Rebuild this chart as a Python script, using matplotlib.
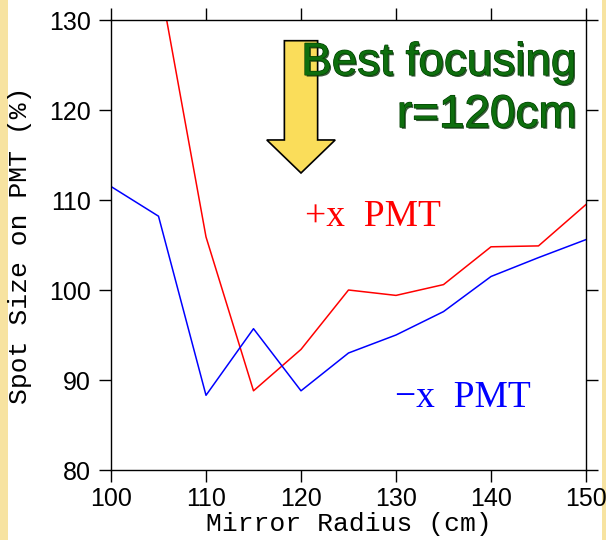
import matplotlib
matplotlib.use("Agg")
import matplotlib.pyplot as plt
import matplotlib.patheffects as pe
from matplotlib.patches import Rectangle

# mirror radius scan: spot size on each PMT, relative to nominal
radius_plus = [105, 110, 115, 120, 125, 130, 135, 140, 145, 150]
spot_plus = [135.0, 105.9, 88.8, 93.4, 100.0, 99.4, 100.6, 104.8, 104.9, 109.5]

radius_minus = [100, 105, 110, 115, 120, 125, 130, 135, 140, 145, 150]
spot_minus = [111.5, 108.2, 88.3, 95.7, 88.8, 93.0, 95.0, 97.6, 101.5, 103.6, 105.6]

x_ticks = [100, 110, 120, 130, 140, 150]
y_ticks = [80, 90, 100, 110, 120, 130]
best_radius = 120

BEIGE = "#f7e3a1"
GREEN = "#0e6e0e"

fig = plt.figure(figsize=(6.06, 5.40), dpi=100)
fig.patches.append(Rectangle((0, 0), 8 / 606, 1, transform=fig.transFigure,
                             facecolor=BEIGE, edgecolor="none", zorder=-1))
fig.patches.append(Rectangle((602 / 606, 0), 4 / 606, 1, transform=fig.transFigure,
                             facecolor=BEIGE, edgecolor="none", zorder=-1))

ax = fig.add_axes([111 / 606, 70 / 540, 475 / 606, 450 / 540])
ax.plot(radius_plus, spot_plus, color="red", lw=1.1)
ax.plot(radius_minus, spot_minus, color="blue", lw=1.1)

ax.set_xlim(100, 150)
ax.set_ylim(80, 130)
ax.set_xticks(x_ticks)
ax.set_yticks(y_ticks)
ax.tick_params(direction="out", length=8.6, width=1.0, top=True, right=True,
               labelsize=18, colors="black")
ax.tick_params(axis="y", pad=6)
ax.tick_params(axis="x", pad=4)
for lab in ax.get_xticklabels() + ax.get_yticklabels():
    lab.set_fontfamily("Liberation Sans")
for sp in ax.spines.values():
    sp.set_linewidth(1.0)

ax.set_xlabel("Mirror Radius (cm)", fontfamily="Liberation Mono", fontsize=19,
              labelpad=0)
ax.set_ylabel("Spot Size on PMT (%)", fontfamily="Liberation Mono", fontsize=19,
              labelpad=12)

# series labels
ax.text(120.4, 107.1, "+x  PMT", color="red", fontfamily="Liberation Serif",
        fontsize=27)
ax.text(129.9, 87.0, "\u2212x  PMT", color="blue", fontfamily="Liberation Serif",
        fontsize=27)

# yellow arrow pointing at the best radius
ax.arrow(best_radius, 127.7, 0, -14.7 + 3.67, width=3.5, head_width=7.2,
         head_length=3.67, length_includes_head=False, facecolor="#fadd5a",
         edgecolor="black", lw=1.2, zorder=3)

shadow = [pe.withSimplePatchShadow(offset=(1.2, -1.2), shadow_rgbFace="#0a300a",
                                   alpha=0.8),
          pe.Stroke(linewidth=0.9, foreground="#004000"), pe.Normal()]
ax.text(149.0, 123.9, "Best focusing", color=GREEN, fontfamily="Liberation Sans",
        fontsize=33, ha="right", va="baseline", zorder=4, path_effects=shadow)
ax.text(149.0, 118.1, "r=120cm", color=GREEN, fontfamily="Liberation Sans",
        fontsize=33, ha="right", va="baseline", zorder=4, path_effects=shadow)

fig.savefig("out.png", dpi=100)
